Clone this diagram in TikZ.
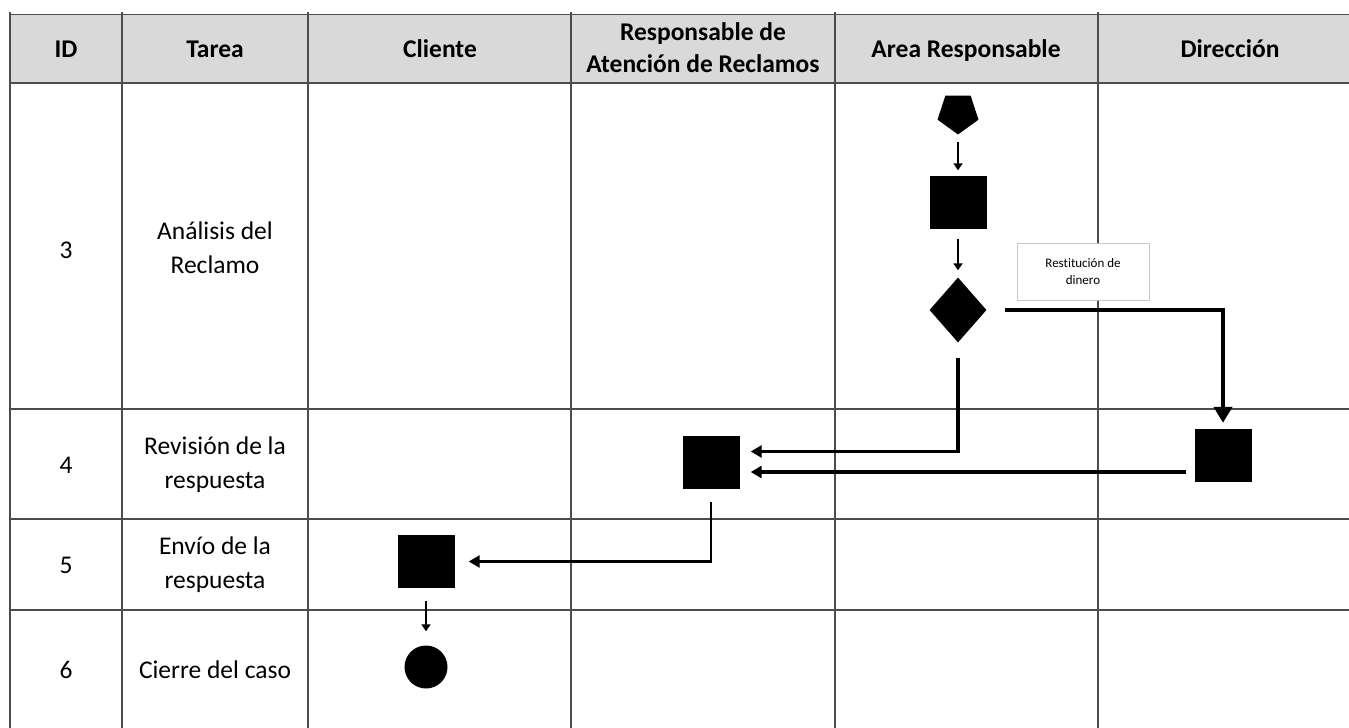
\documentclass[tikz,border=0pt]{standalone}
\usepackage{fontspec}
\setmainfont{Carlito}[Ligatures=NoCommon]
\usetikzlibrary{shapes.geometric,arrows.meta}

\begin{document}
\begin{tikzpicture}[x=1pt, y=-1pt, font=\fontsize{25.5}{34}\selectfont,
	head/.style={font=\fontsize{25.5}{32}\selectfont\bfseries, align=center},
	cell/.style={align=center},
	box/.style={fill=black, minimum width=57pt, minimum height=53pt, inner sep=0pt},
	dec/.style={diamond, fill=black, minimum width=57pt, minimum height=65pt, inner sep=0pt},
	flow/.style={-{Triangle[length=7pt,width=9pt]}, line width=2.5pt},
	mid/.style={-{Triangle[length=11pt,width=12pt]}, line width=4pt},
	big/.style={-{Triangle[length=16pt,width=18pt]}, line width=4.5pt},
	grid/.style={draw=gray!60!black, line width=1.2pt}]

		\useasboundingbox (0,0) rectangle (1349,728);
		\fill[gray!30] (10,14.5) rectangle (1349,83);

		\draw[grid] (10,14.5) -- (1349,14.5);
		\draw[grid] (10,83) -- (1349,83);
		\draw[grid] (10,409) -- (1349,409);
		\draw[grid] (10,519) -- (1349,519);
		\draw[grid] (10,610) -- (1349,610);
		\draw[grid] (10,12) -- (10,728);
		\draw[grid] (122,12) -- (122,728);
		\draw[grid] (308,12) -- (308,728);
		\draw[grid] (571,12) -- (571,728);
		\draw[grid] (835,12) -- (835,728);
		\draw[grid] (1098,12) -- (1098,728);

		\node[head] (id) at (66,49) {ID};
		\node[head] (tarea) at (215,49) {Tarea};
		\node[head] (cliente) at (440,49) {Cliente};
		\node[head] (rar) at (703,48) {Responsable de\\Atención de Reclamos};
		\node[head] (area) at (966,51) {Area Responsable};
		\node[head] (hdir) at (1230,49) {Dirección};

		\node (n3) at (66,250) {3};
		\node[cell] (t3) at (215,248) {Análisis del\\Reclamo};
		\node (n4) at (66,465) {4};
		\node[cell] (t4) at (215,465) {Revisión de la\\respuesta};
		\node (n5) at (66,565) {5};
		\node[cell] (t5) at (215,565) {Envío de la\\respuesta};
		\node (n6) at (66,670) {6};
		\node[cell] (t6) at (215,670) {Cierre del caso};

		\node[regular polygon, regular polygon sides=5, shape border rotate=180, fill=black, minimum size=43pt, inner sep=0pt] (start) at (958,113) {};
		\node[box] (analisis) at (958,202) {};
		\node[dec] (decision) at (958,310) {};
		\node[box] (revision) at (711,462) {};
		\node[box] (direccion) at (1223,455.5) {};
		\node[box] (envio) at (426,561.5) {};
		\node[circle, fill=black, minimum size=43pt, inner sep=0pt] (fin) at (426,667) {};
		\node[draw=gray!45, line width=1pt, fill=white, minimum width=132pt, minimum height=57pt, align=center, font=\fontsize{13}{17}\selectfont] (restitucion) at (1083,272) {Restitución de\\dinero};

		\coordinate (r1) at ([yshift=10.5pt]revision.east);
		\coordinate (r2) at ([yshift=-10pt]revision.east);

		\draw[flow, shorten <=7pt, shorten >=5pt] (start) -- (analisis);
		\draw[flow, shorten <=10pt, shorten >=7pt] (analisis) -- (decision);
		\draw[big, shorten <=18pt, shorten >=6pt] (decision.east) -| (direccion.north);
		\draw[mid, line width=3.5pt, shorten <=15pt, shorten >=11pt] (decision.south) |- (r1);
		\draw[mid, shorten <=8pt, shorten >=11pt] (direccion.west |- r2) -- (r2);
		\draw[mid, line width=2.5pt, shorten <=13pt, shorten >=14pt] (revision.south) |- (envio.east);
		\draw[flow, shorten <=13pt, shorten >=14pt] (envio) -- (fin);

	\end{tikzpicture}
\end{document}
